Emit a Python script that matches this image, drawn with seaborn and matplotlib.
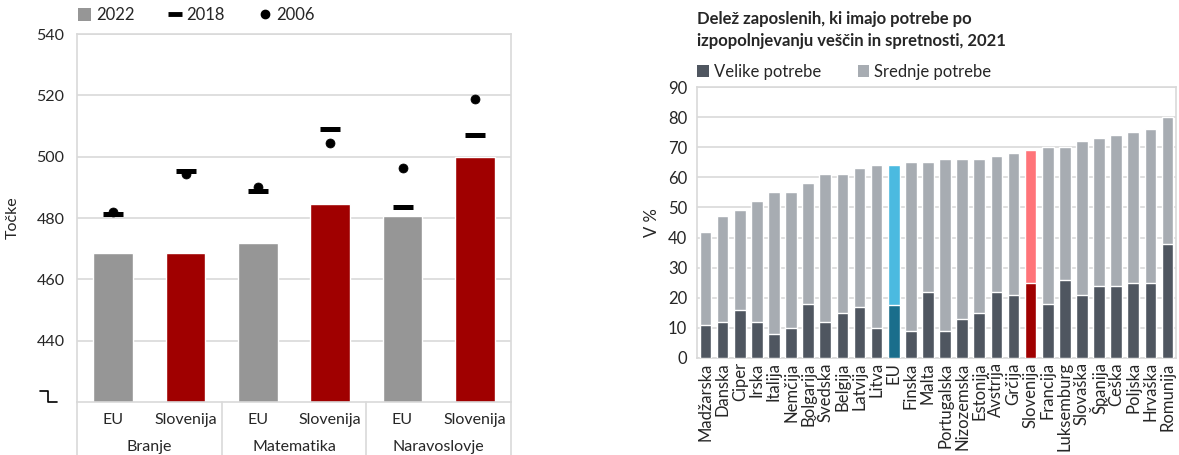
import numpy as np
import pandas as pd
import matplotlib
matplotlib.use("Agg")
import matplotlib.pyplot as plt
from matplotlib.patches import Patch
from matplotlib.lines import Line2D
import matplotlib.transforms as mtransforms
import seaborn as sns

# =========================
# Podatki - PISA (levi graf)
# =========================
pisa_groups = ["Branje", "Matematika", "Naravoslovje"]
pisa_countries = ["EU", "Slovenija"]
pisa_2022 = [468.6, 468.7, 471.8, 484.6, 480.6, 499.8]
pisa_2018 = [481.3, 495.3, 488.8, 508.9, 483.6, 507.0]
pisa_2006 = [482.0, 494.2, 490.2, 504.6, 496.4, 518.8]

# =========================
# Podatki - potrebe po izpopolnjevanju (desni graf)
# =========================
drzave = ["Madžarska", "Danska", "Ciper", "Irska", "Italija", "Nemčija", "Bolgarija",
          "Švedska", "Belgija", "Latvija", "Litva", "EU", "Finska", "Malta",
          "Portugalska", "Nizozemska", "Estonija", "Avstrija", "Grčija", "Slovenija",
          "Francija", "Luksemburg", "Slovaška", "Španija", "Češka", "Poljska",
          "Hrvaška", "Romunija"]
velike = [11, 12, 16, 12, 8, 10, 18, 12, 15, 17, 10, 17.6, 9, 22, 9, 13, 15, 22, 21,
          25, 18, 26, 21, 24, 24, 25, 25, 38]
skupaj = [42, 47, 49, 52, 55, 55, 58, 61, 61, 63, 64, 64.2, 65, 65, 66, 66, 66, 67, 68,
          69.2, 70, 70, 72, 73, 74, 75, 76, 80]

GRAY = "#969696"
RED = "#A00000"
GRID = "#D9D9D9"
DARK = "#4F5660"
LIGHT = "#A7ACB2"

sns.set_style("white")
plt.rcParams["font.family"] = ["Lato", "DejaVu Sans"]
plt.rcParams["font.size"] = 11

fig = plt.figure(figsize=(11.79, 4.55), dpi=100)
W, H = 1179, 455

# =========================
# Levi graf
# =========================
ax1 = fig.add_axes([77 / W, 1 - 402 / H, 434 / W, 368 / H])

keys = [f"{g} {c}" for g in pisa_groups for c in pisa_countries]
df = pd.DataFrame({
    "kljuc": keys,
    "drzava": pisa_countries * len(pisa_groups),
    "y2022": pisa_2022,
    "y2018": pisa_2018,
    "y2006": pisa_2006,
})
df["pos"] = np.arange(len(df))

sns.barplot(data=df, x="kljuc", y="y2022", hue="drzava",
            palette={"EU": GRAY, "Slovenija": RED}, dodge=False, saturation=1,
            width=0.55, legend=False, ax=ax1, zorder=2)
sns.scatterplot(data=df, x="pos", y="y2018", marker="_", s=210, linewidth=3.6,
                color="black", ax=ax1, zorder=4)
sns.scatterplot(data=df, x="pos", y="y2006", marker="o", s=42, color="black",
                edgecolor="black", ax=ax1, zorder=3)

ax1.set_xlim(-0.5, len(df) - 0.5)
ax1.set_ylim(420, 540)
ax1.set_yticks([440, 460, 480, 500, 520, 540])
ax1.yaxis.grid(True, color=GRID, linewidth=1.2, zorder=0)
ax1.set_axisbelow(True)
for sp in ax1.spines.values():
    sp.set_color(GRID)
    sp.set_linewidth(1.2)
ax1.tick_params(axis="both", length=0, labelsize=11.5, pad=9)
ax1.set_xticks(df["pos"])
ax1.set_xticklabels(df["drzava"])
ax1.tick_params(axis="x", pad=8)
ax1.set_xlabel("")
ax1.set_ylabel("Točke", fontsize=11.5, labelpad=12)

# skupine in ločilne črte pod osjo
trans = mtransforms.blended_transform_factory(ax1.transData, ax1.transAxes)
for i, g in enumerate(pisa_groups):
    ax1.text(2 * i + 0.5, -0.122, g, transform=trans, ha="center", va="center",
             fontsize=11.5)
for b in np.arange(0, len(df) + 1, 2) - 0.5:
    ax1.plot([b, b], [0, -0.145], transform=trans, color=GRID, linewidth=1.2,
             clip_on=False)

# oznaka prekinitve osi
trans_b = mtransforms.blended_transform_factory(ax1.transAxes, ax1.transData)
ax1.plot([-0.085, -0.067, -0.067, -0.046], [423.6, 423.6, 420, 420],
         transform=trans_b, color="black", linewidth=1.2, clip_on=False)

handles1 = [
    Patch(facecolor=GRAY, edgecolor="none", label="2022"),
    Line2D([], [], color="black", marker="_", markersize=10, markeredgewidth=3.5,
           linestyle="none", label="2018"),
    Line2D([], [], color="black", marker="o", markersize=6, linestyle="none",
           label="2006"),
]
fig.legend(handles=handles1, loc="upper left", bbox_to_anchor=(78 / W, 1 - 7 / H),
           ncol=3, frameon=False, fontsize=12, handlelength=0.8, handleheight=0.8,
           handletextpad=0.3, columnspacing=2.0, borderaxespad=0, borderpad=0)

# =========================
# Desni graf
# =========================
ax2 = fig.add_axes([697 / W, 1 - 358 / H, 479 / W, 271 / H])

light_cols = [LIGHT] * len(drzave)
dark_cols = [DARK] * len(drzave)
light_cols[drzave.index("EU")] = "#4BBAE0"
dark_cols[drzave.index("EU")] = "#1A6E8C"
light_cols[drzave.index("Slovenija")] = "#FF7479"
dark_cols[drzave.index("Slovenija")] = "#A00000"

sns.barplot(x=drzave, y=skupaj, hue=drzave, palette=light_cols, legend=False,
            saturation=1, width=0.68, ax=ax2, zorder=2)
sns.barplot(x=drzave, y=velike, hue=drzave, palette=dark_cols, legend=False,
            saturation=1, width=0.68, ax=ax2, zorder=3)

ax2.set_xlim(-0.5, len(drzave) - 0.5)
ax2.set_ylim(0, 90)
ax2.set_yticks(range(0, 91, 10))
ax2.yaxis.grid(True, color=GRID, linewidth=1.2, zorder=0)
ax2.set_axisbelow(True)
for sp in ax2.spines.values():
    sp.set_color(GRID)
    sp.set_linewidth(1.2)
ax2.tick_params(axis="both", length=0, labelsize=12)
ax2.tick_params(axis="y", pad=7)
ax2.tick_params(axis="x", pad=3, labelrotation=90)
ax2.set_ylabel("V %", fontsize=12, labelpad=6)

fig.text(697 / W, 1 - 11 / H,
         "Delež zaposlenih, ki imajo potrebe po\nizpopolnjevanju veščin in spretnosti, 2021",
         ha="left", va="top", fontsize=12, fontweight="bold", linespacing=1.45)

handles2 = [
    Patch(facecolor=DARK, edgecolor="none", label="Velike potrebe"),
    Patch(facecolor=LIGHT, edgecolor="none", label="Srednje potrebe"),
]
fig.legend(handles=handles2, loc="upper left", bbox_to_anchor=(697 / W, 1 - 64 / H),
           ncol=2, frameon=False, fontsize=12, handlelength=0.7, handleheight=0.7,
           handletextpad=0.3, columnspacing=2.2, borderaxespad=0, borderpad=0)

fig.savefig("out.png", dpi=100)
